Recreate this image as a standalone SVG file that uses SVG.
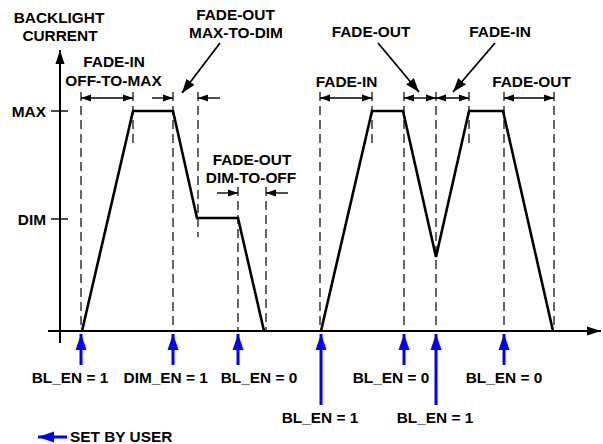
<svg xmlns="http://www.w3.org/2000/svg" width="603" height="444" viewBox="0 0 603 444">
<style>
text{font-family:"Liberation Sans",Arial,sans-serif;font-weight:bold;font-size:15.4px;fill:#000;text-anchor:middle}
.dash{stroke:#000;stroke-width:1.2;stroke-dasharray:9 5;fill:none}
.dim{stroke:#000;stroke-width:1.4;fill:none}
.diag{stroke:#000;stroke-width:1.8;fill:none}
.blue{stroke:#0000ff;stroke-width:3;fill:none}
.axis{stroke:#000;stroke-width:2;fill:none}
.tick{stroke:#000;stroke-width:1.4}
.curve{stroke:#000;stroke-width:2.6;fill:none;stroke-linejoin:miter}
</style>
<defs>
<marker id="ah" markerUnits="userSpaceOnUse" markerWidth="10" markerHeight="8" refX="10" refY="4" orient="auto-start-reverse"><path d="M0,0.5 L10,4 L0,7.5 z" fill="#000"/></marker>
<marker id="ahL" markerUnits="userSpaceOnUse" markerWidth="14" markerHeight="10" refX="14" refY="5" orient="auto"><path d="M0,0 L14,5 L0,10 z" fill="#000"/></marker>
<marker id="ab" markerUnits="userSpaceOnUse" markerWidth="16" markerHeight="12" refX="16" refY="6" orient="auto"><path d="M0,0.5 L16,6 L0,11.5 z" fill="#0000ff"/></marker>
<marker id="ax" markerUnits="userSpaceOnUse" markerWidth="14" markerHeight="10" refX="14" refY="5" orient="auto"><path d="M0,0.5 L14,5 L0,9.5 z" fill="#000"/></marker>
</defs>

<g id="axes">
<line class="axis" x1="60" y1="343" x2="60" y2="50" marker-end="url(#ax)"/>
<line class="axis" x1="48" y1="331" x2="601" y2="331" marker-end="url(#ax)"/>
<line class="tick" x1="51" y1="111" x2="68" y2="111"/>
<line class="tick" x1="51" y1="219" x2="68" y2="219"/>
</g>

<g id="labels-axis">
<text x="59" y="23">BACKLIGHT</text>
<text x="60" y="40.5">CURRENT</text>
<text x="46" y="117" style="text-anchor:end">MAX</text>
<text x="46" y="225" style="text-anchor:end">DIM</text>
</g>

<g id="guides">
<line class="dash" x1="81" y1="92" x2="81" y2="331"/>
<line class="dash" x1="133" y1="92" x2="133" y2="145"/>
<line class="dash" x1="173" y1="92" x2="173" y2="331"/>
<line class="dash" x1="198" y1="92" x2="198" y2="237"/>
<line class="dash" x1="238" y1="187" x2="238" y2="331"/>
<line class="dash" x1="266" y1="187" x2="266" y2="331"/>
<line class="dash" x1="320" y1="92" x2="320" y2="331"/>
<line class="dash" x1="372" y1="92" x2="372" y2="145"/>
<line class="dash" x1="404" y1="92" x2="404" y2="331"/>
<line class="dash" x1="436" y1="92" x2="436" y2="331"/>
<line class="dash" x1="469" y1="92" x2="469" y2="145"/>
<line class="dash" x1="504" y1="92" x2="504" y2="331"/>
<line class="dash" x1="554" y1="92" x2="554" y2="331"/>
</g>

<g id="waveform">
<polyline class="curve" points="82,331 133,111 173,111 197,218 238,218 264,331"/>
<polyline class="curve" points="321,331 372,111 403,111 436,257 469,111 503,111 553,331"/>
</g>

<g id="connectors">
<line class="dim" x1="81" y1="98" x2="133" y2="98" marker-start="url(#ah)" marker-end="url(#ah)"/>
<line class="dim" x1="152" y1="98" x2="173" y2="98" marker-end="url(#ah)"/>
<line class="dim" x1="220" y1="98" x2="198" y2="98" marker-end="url(#ah)"/>
<line class="dim" x1="217" y1="193" x2="238" y2="193" marker-end="url(#ah)"/>
<line class="dim" x1="288" y1="193" x2="266" y2="193" marker-end="url(#ah)"/>
<line class="dim" x1="320" y1="98" x2="372" y2="98" marker-start="url(#ah)" marker-end="url(#ah)"/>
<line class="dim" x1="404" y1="98" x2="436" y2="98" marker-start="url(#ah)" marker-end="url(#ah)"/>
<line class="dim" x1="436" y1="98" x2="469" y2="98" marker-start="url(#ah)" marker-end="url(#ah)"/>
<line class="dim" x1="504" y1="98" x2="554" y2="98" marker-start="url(#ah)" marker-end="url(#ah)"/>
<line class="diag" x1="220" y1="43" x2="182" y2="93" marker-end="url(#ahL)"/>
<line class="diag" x1="378" y1="43" x2="419" y2="92" marker-end="url(#ahL)"/>
<line class="diag" x1="495" y1="43" x2="453" y2="92" marker-end="url(#ahL)"/>
<line class="blue" x1="81" y1="365" x2="81" y2="334" marker-end="url(#ab)"/>
<line class="blue" x1="173" y1="365" x2="173" y2="334" marker-end="url(#ab)"/>
<line class="blue" x1="238" y1="365" x2="238" y2="334" marker-end="url(#ab)"/>
<line class="blue" x1="321" y1="405" x2="321" y2="334" marker-end="url(#ab)"/>
<line class="blue" x1="404" y1="365" x2="404" y2="334" marker-end="url(#ab)"/>
<line class="blue" x1="436" y1="405" x2="436" y2="334" marker-end="url(#ab)"/>
<line class="blue" x1="504" y1="365" x2="504" y2="334" marker-end="url(#ab)"/>
</g>

<g id="phase-labels">
<text x="114" y="67">FADE-IN</text>
<text x="113.5" y="85.5">OFF-TO-MAX</text>
<text x="235.5" y="20">FADE-OUT</text>
<text x="236" y="37.5">MAX-TO-DIM</text>
<text x="252" y="165">FADE-OUT</text>
<text x="251" y="183">DIM-TO-OFF</text>
<text x="346.5" y="87">FADE-IN</text>
<text x="371" y="36.5">FADE-OUT</text>
<text x="500" y="36.5">FADE-IN</text>
<text x="531.5" y="87">FADE-OUT</text>
</g>

<g id="event-labels">
<text x="70" y="383">BL_EN = 1</text>
<text x="165.7" y="383">DIM_EN = 1</text>
<text x="259" y="383">BL_EN = 0</text>
<text x="391" y="383">BL_EN = 0</text>
<text x="504" y="383">BL_EN = 0</text>
<text x="320" y="423">BL_EN = 1</text>
<text x="435" y="423">BL_EN = 1</text>
</g>

<g id="legend">
<line class="blue" x1="67" y1="437" x2="38" y2="437" marker-end="url(#ab)"/>
<text x="70" y="442" style="text-anchor:start">SET BY USER</text>
</g>
</svg>
